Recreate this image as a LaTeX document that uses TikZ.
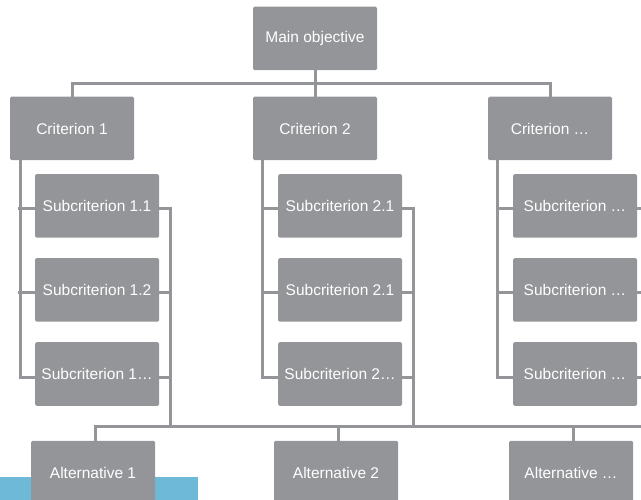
\documentclass[tikz,border=0pt]{standalone}
\usepackage{fontspec}
\setmainfont{Liberation Sans}
\usetikzlibrary{calc}
\definecolor{boxgray}{RGB}{147,149,152}
\definecolor{linegray}{RGB}{147,149,152}
\definecolor{stripblue}{RGB}{110,184,216}
\tikzset{
  box/.style={fill=boxgray, rounded corners=1.5pt, minimum width=124pt, minimum height=63.5pt,
    inner sep=0pt, text=white, font=\fontsize{15.5}{18}\selectfont},
  conn/.style={draw=linegray, line width=3pt},
}
\begin{document}
\begin{tikzpicture}[x=1pt,y=-1pt]
\useasboundingbox (0,0) rectangle (641,500);
\clip (0,0) rectangle (641,500);
% blue strip
\fill[stripblue] (0,476.7) rectangle (197.7,505);
% nodes
\node[box] (main) at (315,38.5) {Main objective};
\node[box] (c1) at (72,128.5) {Criterion 1};
\node[box] (c2) at (315,128.5) {Criterion 2};
\node[box] (c3) at (550,128.5) {Criterion \ldots};
\node[box] (s11) at (97,206) {Subcriterion 1.1};
\node[box] (s12) at (97,290) {Subcriterion 1.2};
\node[box] (s13) at (97,374) {Subcriterion 1\ldots};
\node[box] (s21) at (340,206) {Subcriterion 2.1};
\node[box] (s22) at (340,290) {Subcriterion 2.1};
\node[box] (s23) at (340,374) {Subcriterion 2\ldots};
\node[box] (s31) at (575,206) {Subcriterion \ldots};
\node[box] (s32) at (575,290) {Subcriterion \ldots};
\node[box] (s33) at (575,374) {Subcriterion \ldots};
\node[box] (a1) at (93,472.5) {Alternative 1};
\node[box] (a2) at (336,472.5) {Alternative 2};
\node[box] (a3) at (571,472.5) {Alternative \ldots};
% top bus
\coordinate (hub) at (315,83.3);
\draw[conn] (main.south) -- (c2.north);
\draw[conn] (c1.north) |- (hub) -| (c3.north);
% left spines
\coordinate (l1) at (20,160);
\coordinate (l2) at (262.7,160);
\coordinate (l3) at (497.3,160);
\draw[conn] (l1) |- ($(s13.west)+(0,3)$);
\draw[conn] ($(s11.west)+(0,3)$) -- ++(-16.5,0);
\draw[conn] ($(s12.west)+(0,3)$) -- ++(-16.5,0);
\draw[conn] (l2) |- ($(s23.west)+(0,3)$);
\draw[conn] ($(s21.west)+(0,3)$) -- ++(-16.8,0);
\draw[conn] ($(s22.west)+(0,3)$) -- ++(-16.8,0);
\draw[conn] (l3) |- ($(s33.west)+(0,3)$);
\draw[conn] ($(s31.west)+(0,3)$) -- ++(-16.8,0);
\draw[conn] ($(s32.west)+(0,3)$) -- ++(-16.8,0);
% bottom bus
\coordinate (b1) at (170.7,426.7);
\coordinate (b2) at (413,426.7);
\coordinate (b3) at (649,426.7);
\draw[conn] ($(s11.east)+(0,3)$) -| (b1);
\draw[conn] ($(s12.east)+(0,3)$) -- ++(13.2,0);
\draw[conn] ($(s13.east)+(0,3)$) -- ++(13.2,0);
\draw[conn] ($(s21.east)+(0,3)$) -| (b2);
\draw[conn] ($(s22.east)+(0,3)$) -- ++(12.5,0);
\draw[conn] ($(s23.east)+(0,3)$) -- ++(12.5,0);
\draw[conn] ($(s31.east)+(0,3)$) -| (b3);
\draw[conn] ($(s32.east)+(0,3)$) -- ++(12,0);
\draw[conn] ($(s33.east)+(0,3)$) -- ++(12,0);
\draw[conn] ($(a1.north)+(2.7,0)$) |- (b3);
\draw[conn] ($(a2.north)+(2,0)$) -- ($(a2.north)+(2,-14)$);
\draw[conn] ($(a3.north)+(2.3,0)$) -- ($(a3.north)+(2.3,-14)$);
\end{tikzpicture}
\end{document}
